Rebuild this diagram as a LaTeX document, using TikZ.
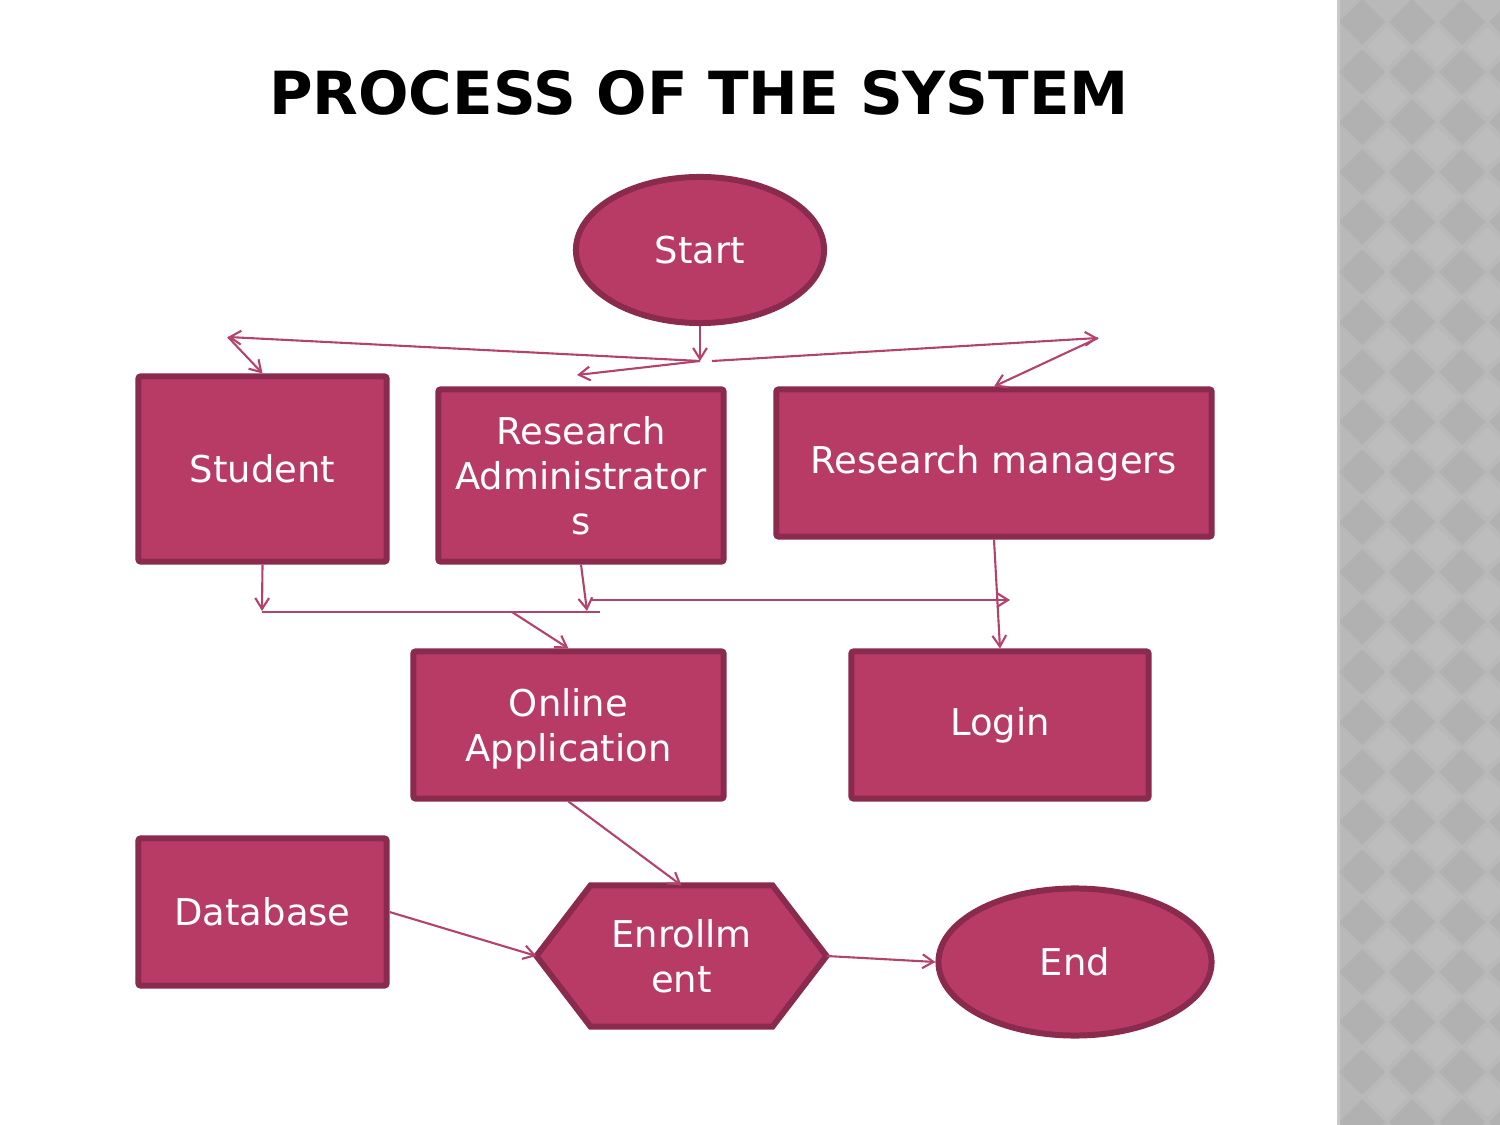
\documentclass[tikz,border=0pt]{standalone}
\usepackage{fontspec}
\setmainfont{DejaVu Sans}
\usetikzlibrary{arrows.meta,positioning,calc,shapes.geometric,backgrounds}
\definecolor{Ink}{HTML}{000000}
\definecolor{Plum}{HTML}{B83B66}
\definecolor{PlumDark}{HTML}{8A2A4D}
\definecolor{PlumLine}{HTML}{B4436C}
\definecolor{Panel}{HTML}{B9B9B9}
\definecolor{PanelDark}{HTML}{B1B1B1}
\definecolor{PanelLight}{HTML}{BDBDBD}
\definecolor{PanelEdge}{HTML}{C9C9C9}
\tikzset{
  flow/.style={draw=PlumDark,line width=1.7pt,fill=Plum,text=white,align=center,inner sep=0pt,font=\fontsize{10.5}{12.8}\selectfont},
  flowbox/.style={flow,rectangle,rounded corners=0.6pt},
  flowoval/.style={flow,ellipse},
  flowhex/.style={flow,draw=none,fill=none,rectangle},
  link/.style={-{Straight Barb[angle=64:1.3mm]},line width=0.6pt,draw=PlumLine},
  plainLink/.style={line width=0.6pt,draw=PlumLine}
}

\begin{document}
\begin{tikzpicture}[x=0.01cm,y=-0.01cm]
\useasboundingbox (0,0) rectangle (1500,1125);
% side panel
\fill[Panel] (1337,0) rectangle (1500,1125);
\foreach \i in {0,...,3}{\foreach \j in {0,...,22}{
  \fill[PanelDark] (1362+50*\i,22+50*\j) +(-23,0) -- +(0,-23) -- +(23,0) -- +(0,23) -- cycle;
  \fill[PanelLight] (1387+50*\i,47+50*\j) +(-20,0) -- +(0,-20) -- +(20,0) -- +(0,20) -- cycle;
}}
\fill[PanelEdge] (1337,0) rectangle (1340,1125);

\node[font=\fontsize{16.9}{20}\selectfont\bfseries,text=Ink] (title) at (699,93) {PROCESS OF THE SYSTEM};

\node[flowoval,minimum width=2.48cm,minimum height=1.46cm] (start) at (700,250) {Start};
\node[flowbox,minimum width=2.48cm,minimum height=1.85cm] (stud) at (262.5,469) {Student};
\node[flowbox,minimum width=2.85cm,minimum height=1.72cm] (adm) at (581,475.5) {Research\\Administrator\\s};
\node[flowbox,minimum width=4.35cm,minimum height=1.47cm] (mgr) at (994,463) {Research managers};
\node[flowbox,minimum width=3.10cm,minimum height=1.47cm,text depth=-0.1cm] (online) at (568.5,725) {Online\\Application};
\node[flowbox,minimum width=2.97cm,minimum height=1.47cm] (login) at (1000,725) {Login};
\node[flowbox,minimum width=2.48cm,minimum height=1.47cm] (db) at (262.5,912) {Database};
\node[flowhex,minimum width=2.84cm,minimum height=1.35cm] (enrol) at (681.5,956) {Enrollm\\ent};
\node[flowoval,minimum width=2.73cm,minimum height=1.47cm] (end) at (1075,962) {End};
\begin{scope}[on background layer]
\draw[flow] (enrol.west) -- ([xshift=0.54cm]enrol.north west) -- ([xshift=-0.54cm]enrol.north east)
  -- (enrol.east) -- ([xshift=-0.54cm]enrol.south east) -- ([xshift=0.54cm]enrol.south west) -- cycle;
\end{scope}

\coordinate (split) at (700,361);
\coordinate (leftTip) at (228,337);
\coordinate (adminTip) at (577,375);
\coordinate (rightStart) at (712,361);
\coordinate (rightTip) at (1098,338);
\coordinate (stuEnd) at (262,611);
\coordinate (busL) at (262,612);
\coordinate (busR) at (600,612);
\coordinate (busFork) at (512,612);
\coordinate (admEnd) at (587,611);
\coordinate (hBusL) at (590,600);
\coordinate (hBusR) at (1010,600);

\draw[link] (start.south) -- (split);
\draw[link] (split) -- (leftTip);
\draw[link] (leftTip) -- (stud.north);
\draw[link] (split) -- (adminTip);
\draw[link] (rightStart) -- (rightTip);
\draw[link] (rightTip) -- (mgr.north);
\draw[link] (stud.south) -- (stuEnd);
\draw[plainLink] (busL) -- (busR);
\draw[link] (busFork) -- (online.north);
\draw[link] (adm.south) -- (admEnd);
\draw[link] (hBusL) -- (hBusR);
\draw[link] (mgr.south) -- (login.north);
\draw[link] (online.south) -- (enrol.north);
\draw[link] (db.east) -- (enrol.west);
\draw[link] (enrol.east) -- (end.west);
\end{tikzpicture}
\end{document}
